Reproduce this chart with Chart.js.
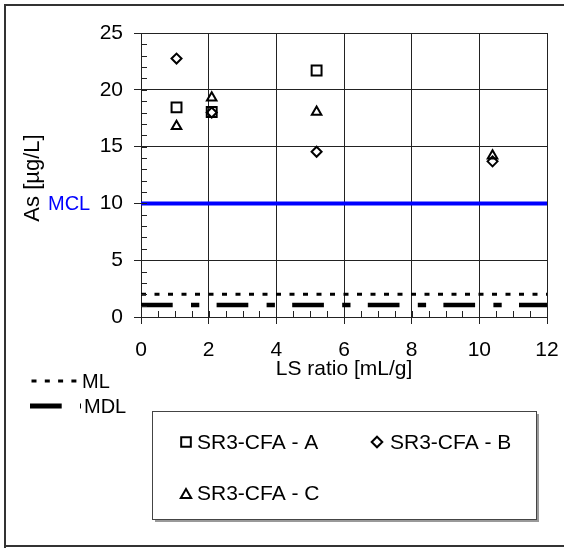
<!DOCTYPE html>
<html>
<head>
<meta charset="utf-8">
<script src="https://cdn.jsdelivr.net/npm/chart.js@4.4.1/dist/chart.umd.min.js"></script>
<style>
  html, body { margin: 0; padding: 0; background: #fff; }
  #wrap { width: 564px; height: 548px; }
</style>
</head>
<body>
<div id="wrap"><canvas id="asChart" width="564" height="548"></canvas></div>
<script>
// LS ratio of each leaching step [mL/g]
const lsRatio = [1.05, 2.09, 5.19, 10.39];
// As concentration [µg/L] per sample
const seriesA = [18.45, 18.05, 21.7, null];
const seriesB = [22.75, 18.0, 14.55, 13.7];
const seriesC = [16.8, 19.3, 18.05, 14.2];
const seriesNames = ['SR3-CFA - A', 'SR3-CFA - B', 'SR3-CFA - C'];
// reference limits
const mclValue = 10;
const mlValue = 2;
const mdlValue = 1.05;
const xTicks = [0, 2, 4, 6, 8, 10, 12];
const yTicks = [0, 5, 10, 15, 20, 25];

const FONT = "'Liberation Sans', Arial, sans-serif";

function toPoints(vals) {
  return lsRatio.map((x, i) => ({ x: x, y: vals[i] })).filter(p => p.y !== null);
}
function flatLine(v) {
  return [{ x: xTicks[0], y: v }, { x: xTicks[xTicks.length - 1], y: v }];
}

const markerStyle = { borderColor: '#000', backgroundColor: 'rgba(0,0,0,0)', borderWidth: 2, showLine: false };

// small inside ticks, outer frame, legends and axis titles
const extrasPlugin = {
  id: 'extras',
  afterDraw(chart) {
    const ctx = chart.ctx;
    const xs = chart.scales.x, ys = chart.scales.y;
    const area = chart.chartArea;
    ctx.save();
    ctx.strokeStyle = '#222';
    ctx.lineWidth = 1;
    ctx.beginPath();
    for (let v = 0; v <= 25; v++) {
      const py = Math.round(ys.getPixelForValue(v)) + 0.5;
      ctx.moveTo(area.left, py); ctx.lineTo(area.left + 6, py);
    }
    for (let v = 0; v <= 12; v += 0.5) {
      const px = Math.round(xs.getPixelForValue(v)) + 0.5;
      ctx.moveTo(px, area.bottom); ctx.lineTo(px, area.bottom - 6);
    }
    ctx.stroke();

    // outer frame
    ctx.fillStyle = '#333';
    ctx.fillRect(4, 4, 560, 2);
    ctx.fillRect(4, 4, 2, 544);
    ctx.fillRect(4, 545, 560, 2);

    // axis titles
    ctx.fillStyle = '#000';
    ctx.font = '21px ' + FONT;
    ctx.textAlign = 'center';
    ctx.textBaseline = 'middle';
    ctx.fillText('LS ratio [mL/g]', 344, 369);
    ctx.save();
    ctx.translate(33, 178);
    ctx.rotate(-Math.PI / 2);
    ctx.font = '22px ' + FONT;
    ctx.fillText('As [µg/L]', 0, 0);
    ctx.restore();
    ctx.font = '20px ' + FONT;
    ctx.textAlign = 'left';
    ctx.fillStyle = '#0000ff';
    ctx.fillText('MCL', 48, 204);

    // ML / MDL key
    ctx.fillStyle = '#000';
    ctx.strokeStyle = '#000';
    ctx.lineWidth = 3;
    ctx.setLineDash([5, 8.3]);
    ctx.beginPath(); ctx.moveTo(31.5, 381); ctx.lineTo(77, 381); ctx.stroke();
    ctx.lineWidth = 5;
    ctx.setLineDash([31.7, 18.3, 8.3, 17.3]);
    ctx.beginPath(); ctx.moveTo(30, 406); ctx.lineTo(81, 406); ctx.stroke();
    ctx.setLineDash([]);
    ctx.fillText('ML', 82, 382);
    ctx.fillText('MDL', 84, 407);

    // series legend box
    ctx.fillStyle = '#999';
    ctx.fillRect(537, 414, 2, 108);
    ctx.fillRect(155, 520, 384, 2);
    ctx.fillStyle = '#fff';
    ctx.fillRect(152, 411, 385, 109);
    ctx.strokeStyle = '#444';
    ctx.lineWidth = 1;
    ctx.strokeRect(152.5, 411.5, 384, 108);

    ctx.font = '21px ' + FONT;
    const items = [
      { style: 'rect', r: 6.8, x: 186, y: 442, tx: 197, ty: 443 },
      { style: 'rectRot', r: 5.3, x: 377, y: 442, tx: 390, ty: 443 },
      { style: 'triangle', r: 6, x: 186, y: 495, tx: 197, ty: 494 }
    ];
    items.forEach((it, i) => {
      ctx.strokeStyle = '#000';
      ctx.fillStyle = 'rgba(0,0,0,0)';
      ctx.lineWidth = 2;
      Chart.helpers.drawPoint(ctx, { pointStyle: it.style, radius: it.r, rotation: 0, borderWidth: 2 }, it.x, it.y);
      ctx.fillStyle = '#000';
      ctx.fillText(seriesNames[i], it.tx, it.ty);
    });
    ctx.restore();
  }
};

new Chart(document.getElementById('asChart'), {
  type: 'scatter',
  data: {
    datasets: [
      { label: 'MCL', type: 'line', data: flatLine(mclValue), borderColor: '#0000ff', borderWidth: 4, pointRadius: 0 },
      { label: 'ML', type: 'line', data: flatLine(mlValue), borderColor: '#000', borderWidth: 3, borderDash: [5, 8.5], pointRadius: 0 },
      { label: 'MDL', type: 'line', data: flatLine(mdlValue), borderColor: '#000', borderWidth: 4.5, borderDash: [31.7, 18.3, 8.3, 17.3], pointRadius: 0 },
      Object.assign({ label: seriesNames[0], data: toPoints(seriesA), pointStyle: 'rect', pointRadius: 7 }, markerStyle),
      Object.assign({ label: seriesNames[1], data: toPoints(seriesB), pointStyle: 'rectRot', pointRadius: 5 }, markerStyle),
      Object.assign({ label: seriesNames[2], data: toPoints(seriesC), pointStyle: 'triangle', pointRadius: 5.5 }, markerStyle)
    ]
  },
  options: {
    responsive: false,
    animation: false,
    devicePixelRatio: 1,
    layout: { padding: { left: 0, right: 17, top: 33, bottom: 191 } },
    plugins: { legend: { display: false }, tooltip: { enabled: false } },
    scales: {
      x: {
        type: 'linear', min: 0, max: 12,
        afterFit(scale) { scale.height = 40; scale.paddingLeft = 0; scale.paddingRight = 0; },
        afterBuildTicks(scale) { scale.ticks = xTicks.map(v => ({ value: v })); },
        grid: { color: '#222', lineWidth: 1, tickLength: 7, tickColor: '#222' },
        border: { color: '#222', width: 1 },
        ticks: { padding: 14, color: '#000', font: { family: FONT, size: 21 }, maxRotation: 0 }
      },
      y: {
        type: 'linear', min: 0, max: 25,
        afterFit(scale) { scale.width = 141; scale.paddingTop = 0; scale.paddingBottom = 0; },
        afterBuildTicks(scale) { scale.ticks = yTicks.map(v => ({ value: v })); },
        grid: { color: '#222', lineWidth: 1, tickLength: 7, tickColor: '#222' },
        border: { color: '#222', width: 1 },
        ticks: { padding: 11, color: '#000', font: { family: FONT, size: 21 } }
      }
    }
  },
  plugins: [extrasPlugin]
});
</script>
</body>
</html>
